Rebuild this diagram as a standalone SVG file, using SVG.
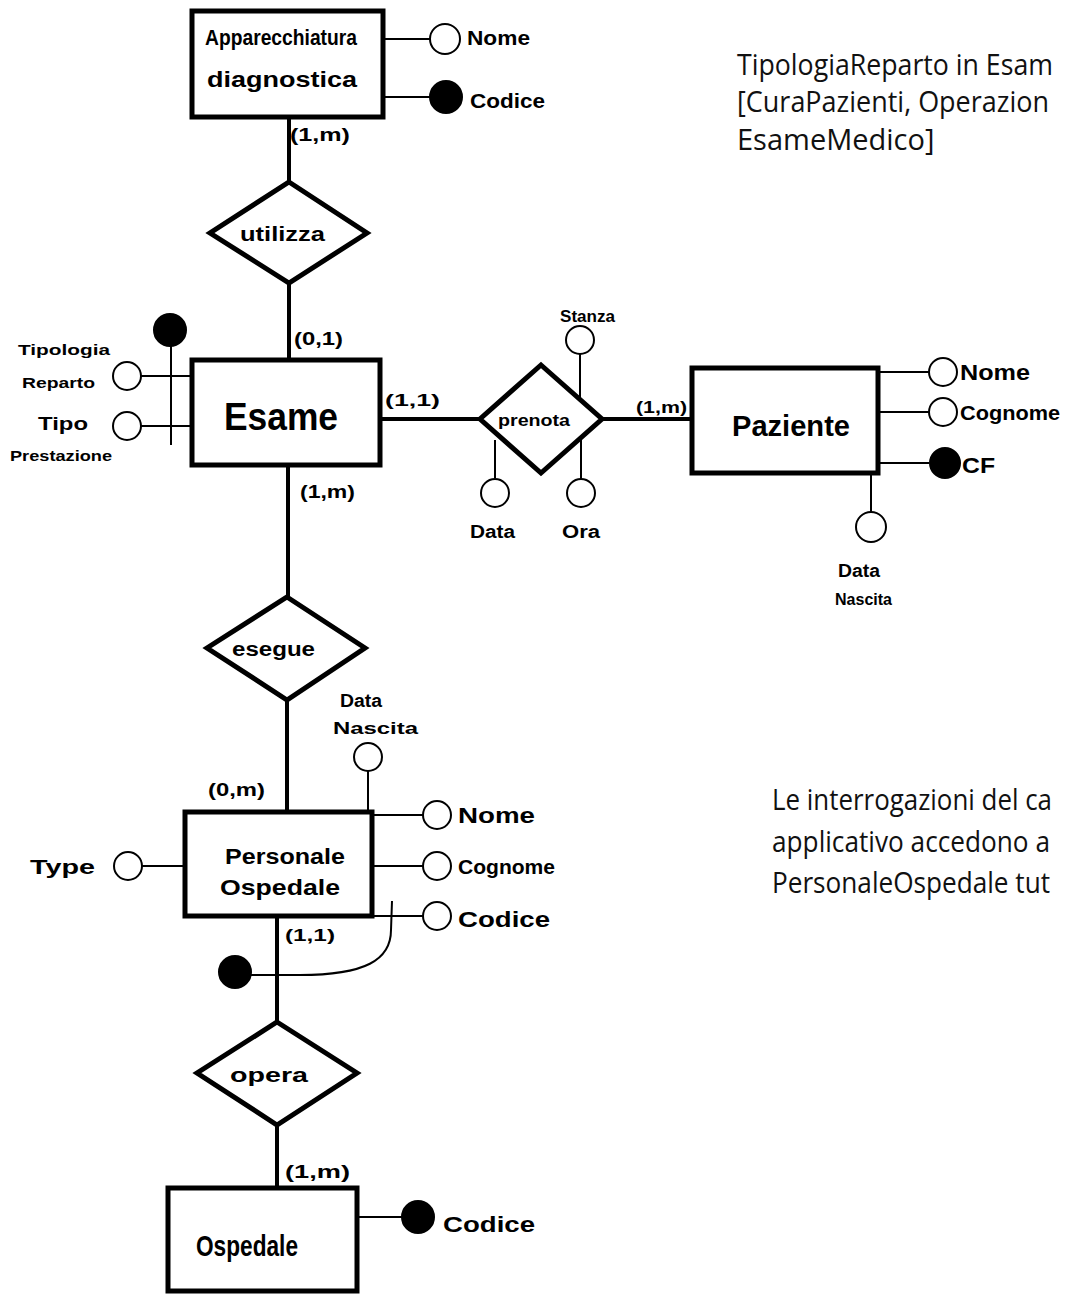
<svg xmlns="http://www.w3.org/2000/svg" width="1068" height="1295" viewBox="0 0 1068 1295">
<style>
.ent{fill:#fff;stroke:#000;stroke-width:5}
.rel{fill:#fff;stroke:#000;stroke-width:5;stroke-linejoin:miter}
.conn{stroke:#000;stroke-width:4;fill:none}
.att{stroke:#000;stroke-width:2;fill:none}
.ac{fill:#fff;stroke:#000;stroke-width:2}
.key{fill:#000;stroke:#000;stroke-width:2}
.h{font-family:"Liberation Sans",Arial,sans-serif;font-weight:bold;fill:#000}
.note{font-family:"Open Sans","Noto Sans",sans-serif;font-size:29px;fill:#111}
</style>
<rect width="1068" height="1295" fill="#fff"/>

<g id="connectors">
<line class="conn" x1="289" y1="117" x2="289" y2="182"/>
<line class="conn" x1="289" y1="283" x2="289" y2="360"/>
<line class="conn" x1="380" y1="419" x2="480" y2="419"/>
<line class="conn" x1="602" y1="419" x2="692" y2="419"/>
<line class="conn" x1="288" y1="465" x2="288" y2="597"/>
<line class="conn" x1="287" y1="700" x2="287" y2="812"/>
<line class="conn" x1="277" y1="916" x2="277" y2="1022"/>
<line class="conn" x1="277" y1="1125" x2="277" y2="1188"/>
<text class="h" x="290" y="141" font-size="18" textLength="60" lengthAdjust="spacingAndGlyphs">(1,m)</text>
<text class="h" x="294" y="345" font-size="18" textLength="49" lengthAdjust="spacingAndGlyphs">(0,1)</text>
<text class="h" x="385" y="406" font-size="17" textLength="55" lengthAdjust="spacingAndGlyphs">(1,1)</text>
<text class="h" x="636" y="413" font-size="17" textLength="51" lengthAdjust="spacingAndGlyphs">(1,m)</text>
<text class="h" x="300" y="498" font-size="18" textLength="55" lengthAdjust="spacingAndGlyphs">(1,m)</text>
<text class="h" x="208" y="796" font-size="18" textLength="57" lengthAdjust="spacingAndGlyphs">(0,m)</text>
<text class="h" x="285" y="941" font-size="17" textLength="50" lengthAdjust="spacingAndGlyphs">(1,1)</text>
<text class="h" x="285" y="1178" font-size="18" textLength="65" lengthAdjust="spacingAndGlyphs">(1,m)</text>
</g>

<g id="apparecchiatura">
<line class="att" x1="383" y1="39" x2="430" y2="39"/>
<line class="att" x1="383" y1="97" x2="430" y2="97"/>
<rect class="ent" x="192" y="11" width="191" height="106"/>
<text class="h" x="205" y="45" font-size="22" textLength="152" lengthAdjust="spacingAndGlyphs">Apparecchiatura</text>
<text class="h" x="207" y="87" font-size="22" textLength="150" lengthAdjust="spacingAndGlyphs">diagnostica</text>
<circle class="ac" cx="445" cy="39" r="15"/>
<circle class="key" cx="446" cy="97" r="16"/>
<text class="h" x="467" y="45" font-size="20" textLength="63" lengthAdjust="spacingAndGlyphs">Nome</text>
<text class="h" x="470" y="108" font-size="20" textLength="75" lengthAdjust="spacingAndGlyphs">Codice</text>
</g>

<g id="utilizza">
<polygon class="rel" points="289,182 367,233 289,283 210,233"/>
<text class="h" x="240" y="241" font-size="20" textLength="85" lengthAdjust="spacingAndGlyphs">utilizza</text>
</g>

<g id="esame">
<line class="att" x1="141" y1="376" x2="192" y2="376"/>
<line class="att" x1="141" y1="426" x2="192" y2="426"/>
<line class="att" x1="171" y1="344" x2="171" y2="445"/>
<circle class="key" cx="170" cy="330" r="16"/>
<circle class="ac" cx="127" cy="376" r="14"/>
<circle class="ac" cx="127" cy="426" r="14"/>
<rect class="ent" x="192" y="360" width="188" height="105"/>
<text class="h" x="224" y="430" font-size="38" textLength="114" lengthAdjust="spacingAndGlyphs">Esame</text>
<text class="h" x="18" y="355" font-size="15" textLength="92" lengthAdjust="spacingAndGlyphs">Tipologia</text>
<text class="h" x="22" y="388" font-size="15" textLength="73" lengthAdjust="spacingAndGlyphs">Reparto</text>
<text class="h" x="38" y="430" font-size="18" textLength="50" lengthAdjust="spacingAndGlyphs">Tipo</text>
<text class="h" x="10" y="461" font-size="15" textLength="102" lengthAdjust="spacingAndGlyphs">Prestazione</text>
</g>

<g id="prenota">
<line class="att" x1="580" y1="354" x2="580" y2="398"/>
<line class="att" x1="495" y1="440" x2="495" y2="478"/>
<line class="att" x1="581" y1="440" x2="581" y2="479"/>
<polygon class="rel" points="541,365 602,419 541,473 480,419"/>
<text class="h" x="498" y="426" font-size="17" textLength="72" lengthAdjust="spacingAndGlyphs">prenota</text>
<circle class="ac" cx="580" cy="340" r="14"/>
<circle class="ac" cx="495" cy="493" r="14"/>
<circle class="ac" cx="581" cy="493" r="14"/>
<text class="h" x="560" y="322" font-size="16" textLength="55" lengthAdjust="spacingAndGlyphs">Stanza</text>
<text class="h" x="470" y="538" font-size="18" textLength="45" lengthAdjust="spacingAndGlyphs">Data</text>
<text class="h" x="562" y="538" font-size="18" textLength="38" lengthAdjust="spacingAndGlyphs">Ora</text>
</g>

<g id="paziente">
<line class="att" x1="878" y1="372" x2="929" y2="372"/>
<line class="att" x1="878" y1="412" x2="929" y2="412"/>
<line class="att" x1="878" y1="463" x2="929" y2="463"/>
<line class="att" x1="871" y1="473" x2="871" y2="512"/>
<rect class="ent" x="692" y="368" width="186" height="105"/>
<text class="h" x="732" y="436" font-size="30" textLength="118" lengthAdjust="spacingAndGlyphs">Paziente</text>
<circle class="ac" cx="943" cy="372" r="14"/>
<circle class="ac" cx="943" cy="412" r="14"/>
<circle class="key" cx="945" cy="463" r="15"/>
<circle class="ac" cx="871" cy="527" r="15"/>
<text class="h" x="960" y="380" font-size="22" textLength="70" lengthAdjust="spacingAndGlyphs">Nome</text>
<text class="h" x="960" y="420" font-size="20" textLength="100" lengthAdjust="spacingAndGlyphs">Cognome</text>
<text class="h" x="962" y="473" font-size="22" textLength="33" lengthAdjust="spacingAndGlyphs">CF</text>
<text class="h" x="838" y="577" font-size="18" textLength="42" lengthAdjust="spacingAndGlyphs">Data</text>
<text class="h" x="835" y="605" font-size="16" textLength="57" lengthAdjust="spacingAndGlyphs">Nascita</text>
</g>

<g id="esegue">
<polygon class="rel" points="287,597 365,648 287,700 207,648"/>
<text class="h" x="232" y="656" font-size="20" textLength="83" lengthAdjust="spacingAndGlyphs">esegue</text>
</g>

<g id="personale-ospedale">
<line class="att" x1="142" y1="866" x2="185" y2="866"/>
<line class="att" x1="372" y1="815" x2="423" y2="815"/>
<line class="att" x1="372" y1="866" x2="423" y2="866"/>
<line class="att" x1="372" y1="916" x2="423" y2="916"/>
<line class="att" x1="368" y1="771" x2="368" y2="812"/>
<path class="att" d="M251,975 L300,975 C365,975 391,960 391,930 L392,901"/>
<circle class="key" cx="235" cy="972" r="16"/>
<rect class="ent" x="185" y="812" width="187" height="104"/>
<text class="h" x="225" y="864" font-size="22" textLength="120" lengthAdjust="spacingAndGlyphs">Personale</text>
<text class="h" x="220" y="895" font-size="22" textLength="120" lengthAdjust="spacingAndGlyphs">Ospedale</text>
<circle class="ac" cx="128" cy="866" r="14"/>
<circle class="ac" cx="437" cy="815" r="14"/>
<circle class="ac" cx="437" cy="866" r="14"/>
<circle class="ac" cx="437" cy="916" r="14"/>
<circle class="ac" cx="368" cy="757" r="14"/>
<text class="h" x="30" y="874" font-size="20" textLength="65" lengthAdjust="spacingAndGlyphs">Type</text>
<text class="h" x="458" y="823" font-size="22" textLength="77" lengthAdjust="spacingAndGlyphs">Nome</text>
<text class="h" x="458" y="874" font-size="20" textLength="97" lengthAdjust="spacingAndGlyphs">Cognome</text>
<text class="h" x="458" y="927" font-size="22" textLength="92" lengthAdjust="spacingAndGlyphs">Codice</text>
<text class="h" x="340" y="707" font-size="18" textLength="42" lengthAdjust="spacingAndGlyphs">Data</text>
<text class="h" x="333" y="734" font-size="16" textLength="85" lengthAdjust="spacingAndGlyphs">Nascita</text>
</g>

<g id="opera">
<polygon class="rel" points="277,1022 357,1073 277,1125 197,1073"/>
<text class="h" x="230" y="1082" font-size="20" textLength="78" lengthAdjust="spacingAndGlyphs">opera</text>
</g>

<g id="ospedale">
<line class="att" x1="357" y1="1217" x2="402" y2="1217"/>
<rect class="ent" x="168" y="1188" width="189" height="103"/>
<text class="h" x="196" y="1256" font-size="30" textLength="102" lengthAdjust="spacingAndGlyphs">Ospedale</text>
<circle class="key" cx="418" cy="1217" r="16"/>
<text class="h" x="443" y="1232" font-size="22" textLength="92" lengthAdjust="spacingAndGlyphs">Codice</text>
</g>

<g id="note-tipologia">
<text class="note" x="737" y="75" textLength="316" lengthAdjust="spacingAndGlyphs">TipologiaReparto in Esam</text>
<text class="note" x="737" y="112" textLength="312" lengthAdjust="spacingAndGlyphs">[CuraPazienti, Operazion</text>
<text class="note" x="737" y="150">EsameMedico]</text>
</g>

<g id="note-interrogazioni">
<text class="note" x="772" y="810" textLength="280" lengthAdjust="spacingAndGlyphs">Le interrogazioni del ca</text>
<text class="note" x="772" y="852" textLength="278" lengthAdjust="spacingAndGlyphs">applicativo accedono a</text>
<text class="note" x="772" y="893" textLength="278" lengthAdjust="spacingAndGlyphs">PersonaleOspedale tut</text>
</g>
</svg>
